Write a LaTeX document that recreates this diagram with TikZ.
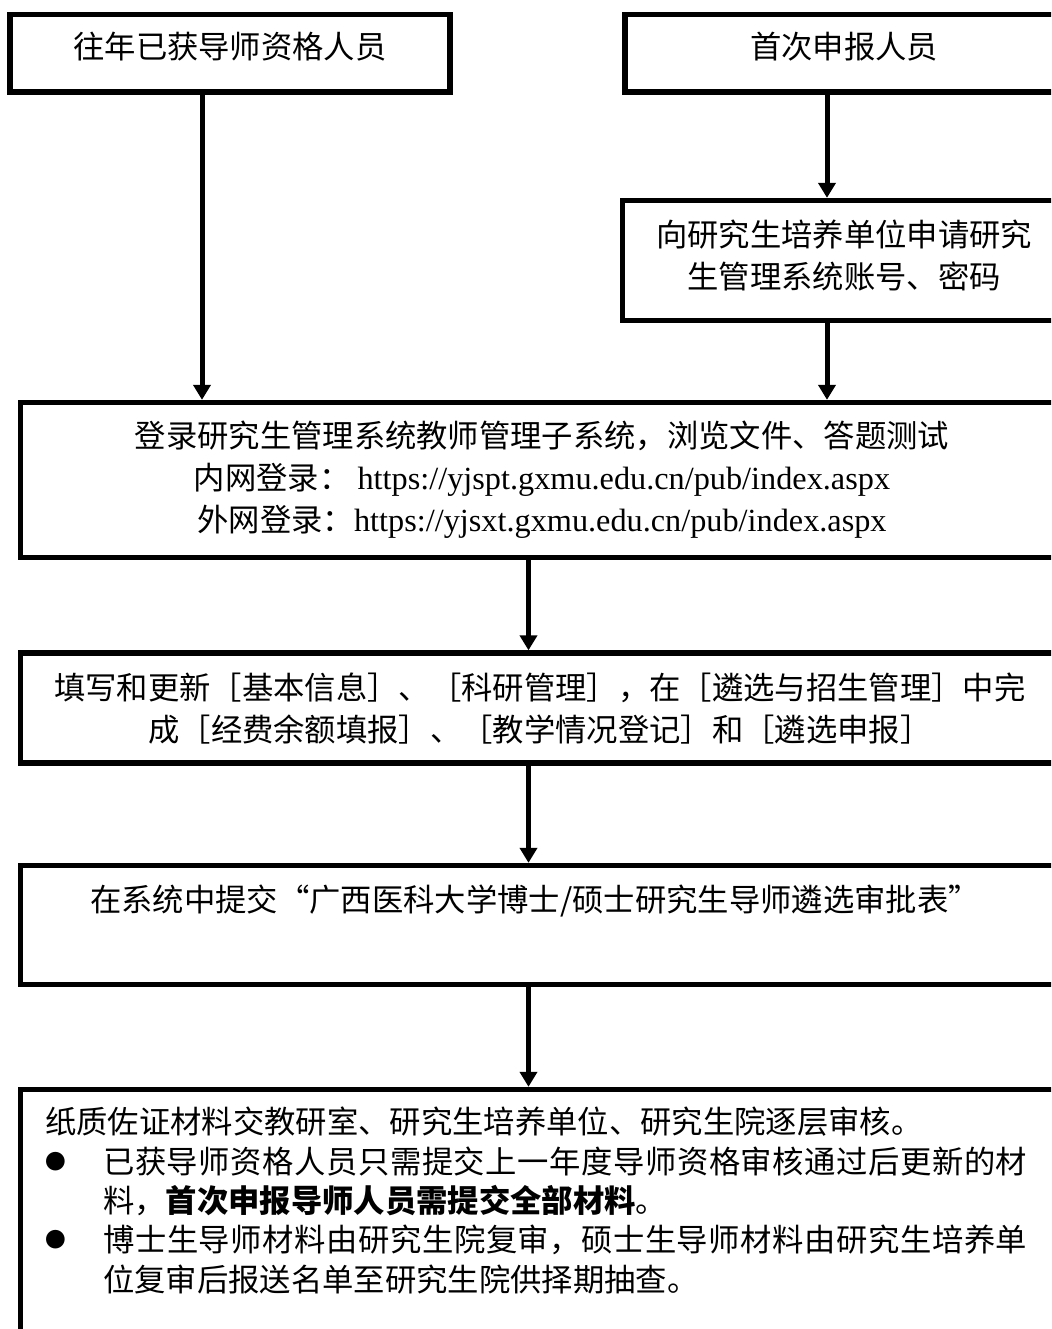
\documentclass[tikz,border=0pt]{standalone}
\usepackage{fontspec}
\setmainfont{Noto Sans CJK SC}
\newfontfamily\latin[Scale=1.03]{Liberation Serif}
\usetikzlibrary{arrows.meta}
\XeTeXlinebreaklocale "zh"
\XeTeXlinebreakskip=0pt plus 2pt
\newcommand\dotitem{\makebox[43.5pt][l]{\raisebox{3pt}{\fontsize{15.5}{15.5}\selectfont ●}}}

\begin{document}
\begin{tikzpicture}[x=0.75pt,y=-0.75pt,
    box/.style={draw,line width=4pt,inner sep=0pt},
    txt/.style={inner sep=0pt,align=center,font=\fontsize{23.5}{31.5}\selectfont},
    flow/.style={line width=3.75pt,-{Triangle[width=12.75pt,length=11.25pt]}}]
    \useasboundingbox (0,0) rectangle (1051,1329);
    \begin{scope}
        \clip (0,0) rectangle (1051,1329);
        \node [box,minimum width=330pt,minimum height=58.1pt] (old) at (230,53.25) {};
        \node [box,minimum width=328.5pt,minimum height=58.1pt] (new) at (844,53.25) {};
        \node [box,minimum width=330.4pt,minimum height=90pt] (acc) at (842.75,260.5) {};
        \node [box,minimum width=781.9pt,minimum height=116.25pt] (log) at (541.75,480) {};
        \node [box,minimum width=781.9pt,minimum height=82.5pt] (fill) at (541.75,708) {};
        \node [box,minimum width=781.9pt,minimum height=89.25pt] (sub) at (541.75,925) {};
        \node [box,minimum width=781.9pt,minimum height=247.9pt] (pap) at (541.75,1254.75) {};

        \coordinate (colA) at (202,0);
        \coordinate (colB) at (827,0);
        \coordinate (colM) at (528.5,0);

        \draw [flow] (colA |- old.south) -- (colA |- log.north);
        \draw [flow] (colB |- new.south) -- (colB |- acc.north);
        \draw [flow] (colB |- acc.south) -- (colB |- log.north);
        \draw [flow] (colM |- log.south) -- (colM |- fill.north);
        \draw [flow] (colM |- fill.south) -- (colM |- sub.north);
        \draw [flow] (colM |- sub.south) -- (colM |- pap.north);

        \node [txt] (oldtxt) at (230,47) {往年已获导师资格人员};
        \node [txt] (newtxt) at (844,47) {首次申报人员};
        \node [txt] (acctxt) at (844,255.5) {向研究生培养单位申请研究\\生管理系统账号、密码};
        \node [txt] (logtxt) at (542,479.5) {登录研究生管理系统教师管理子系统，浏览文件、答题测试\\
            内网登录：~{\latin https://yjspt.gxmu.edu.cn/pub/index.aspx}\\
            外网登录：{\latin https://yjsxt.gxmu.edu.cn/pub/index.aspx}};
        \node [txt] (filltxt) at (540,708.5) {填写和更新［基本信息］、［科研管理］，在［遴选与招生管理］中完\\
            成［经费余额填报］、［教学情况登记］和［遴选申报］};
        \node [txt] (subtxt) at (535,901) {在系统中提交“广西医科大学博士/硕士研究生导师遴选审批表”};
        \node [txt,anchor=north west,text width=736.5pt,align=justify,
            font=\fontsize{23.5}{29.5}\selectfont] (paptxt) at (45,1107) {%
            纸质佐证材料交教研室、研究生培养单位、研究生院逐层审核。\par
            \hangindent=43.5pt\hangafter=1\noindent\dotitem 已获导师资格人员只需提交上一年度导师资格审核通过后更新的材\linebreak
            料，\textbf{首次申报导师人员需提交全部材料}。\par
            \hangindent=43.5pt\hangafter=1\noindent\dotitem 博士生导师材料由研究生院复审，硕士生导师材料由研究生培养单\linebreak
            位复审后报送名单至研究生院供择期抽查。\par};
    \end{scope}
\end{tikzpicture}
\end{document}
